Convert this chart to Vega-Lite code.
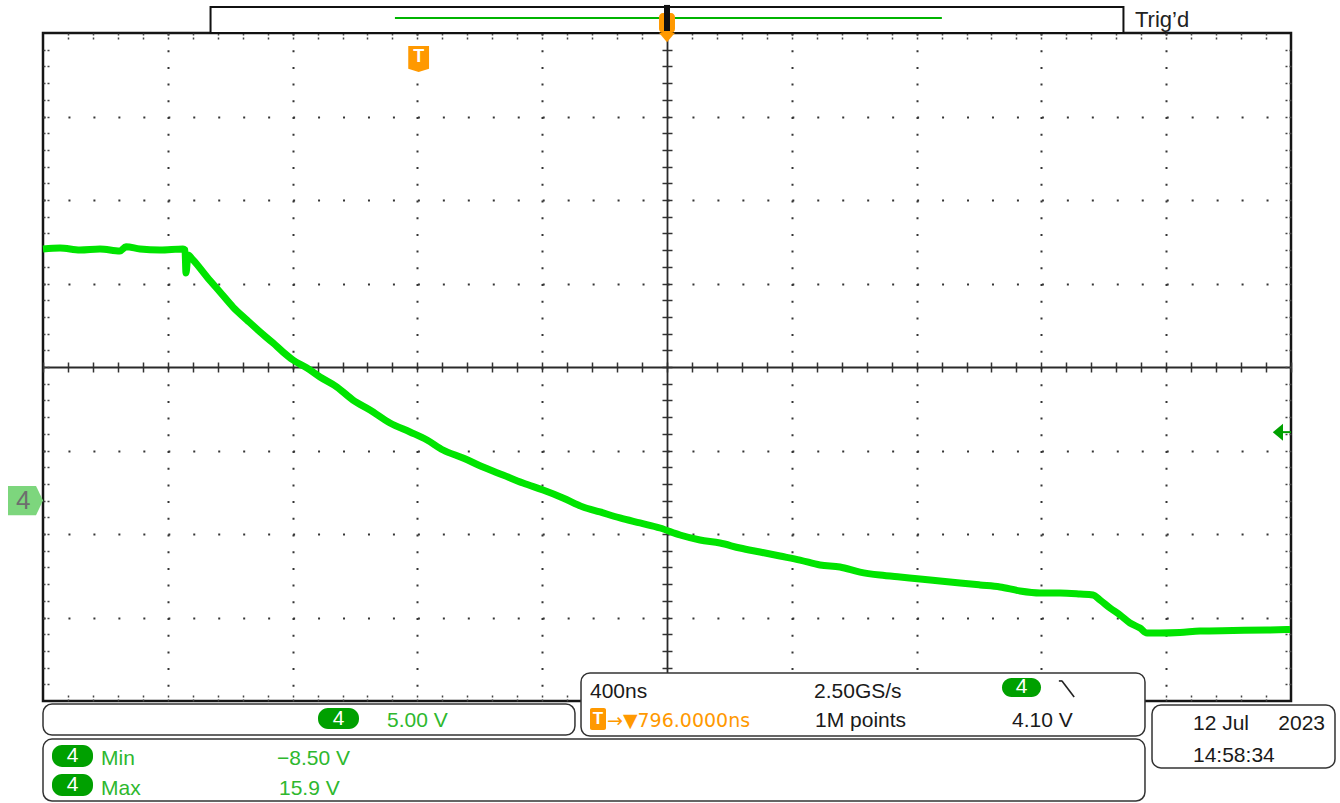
{
  "$schema": "https://vega.github.io/schema/vega-lite/v6.json",
  "width": 1248,
  "height": 668,
  "autosize": {"type": "none"},
  "padding": {"left": 43, "top": 33, "right": 49, "bottom": 102},
  "background": "white",
  "config": {
    "view": {"stroke": "#151515", "strokeWidth": 2.5},
    "text": {"font": "Liberation Sans", "fontSize": 21, "align": "left", "baseline": "alphabetic", "color": "#1a1a1a"}
  },
  "data": {"values": [{}]},
  "datasets": {
    "trace": [
      {"t": -2000, "v": 15.07}, {"t": -1945.5, "v": 15.13}, {"t": -1881.4, "v": 15.01}, {"t": -1817.3, "v": 15.07},
      {"t": -1753.2, "v": 14.95}, {"t": -1734.0, "v": 15.2}, {"t": -1689.1, "v": 15.07}, {"t": -1625.0, "v": 15.01},
      {"t": -1551.3, "v": 15.07}, {"t": -1544.9, "v": 15.01}, {"t": -1541.7, "v": 13.63}, {"t": -1535.3, "v": 14.71},
      {"t": -1519.2, "v": 14.41}, {"t": -1474.4, "v": 13.39}, {"t": -1432.7, "v": 12.49}, {"t": -1391.0, "v": 11.59},
      {"t": -1346.2, "v": 10.81}, {"t": -1304.5, "v": 10.10}, {"t": -1262.8, "v": 9.44}, {"t": -1230.8, "v": 8.90},
      {"t": -1198.7, "v": 8.42}, {"t": -1153.8, "v": 7.94}, {"t": -1112.2, "v": 7.40}, {"t": -1057.7, "v": 6.80},
      {"t": -1006.4, "v": 6.02}, {"t": -951.9, "v": 5.43}, {"t": -887.8, "v": 4.65}, {"t": -823.7, "v": 4.11},
      {"t": -769.2, "v": 3.63}, {"t": -717.9, "v": 3.03}, {"t": -653.8, "v": 2.55}, {"t": -589.7, "v": 2.01},
      {"t": -525.6, "v": 1.53}, {"t": -461.5, "v": 1.05}, {"t": -397.4, "v": 0.63}, {"t": -333.3, "v": 0.16},
      {"t": -269.2, "v": -0.38}, {"t": -214.7, "v": -0.68}, {"t": -150.6, "v": -1.04}, {"t": -86.5, "v": -1.34},
      {"t": -22.4, "v": -1.64}, {"t": 41.7, "v": -2.06}, {"t": 105.8, "v": -2.36}, {"t": 169.9, "v": -2.54},
      {"t": 234.0, "v": -2.84}, {"t": 298.1, "v": -3.08}, {"t": 362.2, "v": -3.32}, {"t": 426.3, "v": -3.56},
      {"t": 490.4, "v": -3.86}, {"t": 554.5, "v": -3.98}, {"t": 618.6, "v": -4.28}, {"t": 682.7, "v": -4.46},
      {"t": 746.8, "v": -4.58}, {"t": 810.9, "v": -4.69}, {"t": 875.0, "v": -4.81}, {"t": 939.1, "v": -4.93},
      {"t": 1003.2, "v": -5.05}, {"t": 1067.3, "v": -5.17}, {"t": 1131.4, "v": -5.41}, {"t": 1195.5, "v": -5.53},
      {"t": 1259.6, "v": -5.53}, {"t": 1323.7, "v": -5.59}, {"t": 1365.4, "v": -5.65}, {"t": 1387.8, "v": -5.95},
      {"t": 1419.9, "v": -6.43}, {"t": 1452.0, "v": -6.85}, {"t": 1484.0, "v": -7.33}, {"t": 1516.0, "v": -7.63},
      {"t": 1538.5, "v": -7.93}, {"t": 1580.1, "v": -7.93}, {"t": 1644.2, "v": -7.9}, {"t": 1708.3, "v": -7.81},
      {"t": 1814.1, "v": -7.78}, {"t": 1923.1, "v": -7.75}, {"t": 1996.8, "v": -7.72}
    ]
  },
  "layer": [
    {
      "data": {"name": "trace"},
      "mark": {"type": "point", "opacity": 0},
      "encoding": {
        "x": {"field": "t", "type": "quantitative", "axis": {"orient": "bottom", "values": [-1600, -1200, -800, -400, 400, 800, 1200, 1600], "grid": true, "gridDash": [2, 14.7], "gridColor": "#353535", "gridWidth": 2, "labels": false, "ticks": false, "domain": false, "title": null}},
        "y": {"field": "v", "type": "quantitative", "axis": {"orient": "left", "values": [-7, -2, 3, 13, 18, 23], "grid": true, "gridDash": [2, 22.96], "gridColor": "#353535", "gridWidth": 2, "labels": false, "ticks": false, "domain": false, "title": null}}
      }
    },
    {
      "data": {"name": "trace"},
      "mark": {"type": "point", "opacity": 0},
      "encoding": {
        "x": {"field": "t", "type": "quantitative", "axis": {"orient": "bottom", "offset": -334, "values": [-2000,-1920,-1840,-1760,-1680,-1600,-1520,-1440,-1360,-1280,-1200,-1120,-1040,-960,-880,-800,-720,-640,-560,-480,-400,-320,-240,-160,-80,0,80,160,240,320,400,480,560,640,720,800,880,960,1040,1120,1200,1280,1360,1440,1520,1600,1680,1760,1840,1920,2000], "grid": false, "labels": false, "ticks": true, "tickSize": 5, "tickColor": "#333", "tickWidth": 1.5, "domain": true, "domainColor": "#2a2a2a", "domainWidth": 1.8, "title": null}},
        "y": {"field": "v", "type": "quantitative", "axis": {"orient": "left", "offset": -624, "values": [-12,-11,-10,-9,-8,-7,-6,-5,-4,-3,-2,-1,0,1,2,3,4,5,6,7,8,9,10,11,12,13,14,15,16,17,18,19,20,21,22,23,24,25,26,27,28], "grid": false, "labels": false, "ticks": true, "tickSize": 5, "tickColor": "#333", "tickWidth": 1.5, "domain": true, "domainColor": "#2a2a2a", "domainWidth": 1.8, "title": null}}
      }
    },
    {
      "data": {"name": "trace"},
      "mark": {"type": "point", "opacity": 0},
      "encoding": {
        "x": {"field": "t", "type": "quantitative", "axis": {"orient": "top", "offset": -334, "values": [-2000,-1920,-1840,-1760,-1680,-1600,-1520,-1440,-1360,-1280,-1200,-1120,-1040,-960,-880,-800,-720,-640,-560,-480,-400,-320,-240,-160,-80,0,80,160,240,320,400,480,560,640,720,800,880,960,1040,1120,1200,1280,1360,1440,1520,1600,1680,1760,1840,1920,2000], "grid": false, "labels": false, "ticks": true, "tickSize": 5, "tickColor": "#333", "tickWidth": 1.5, "domain": false, "title": null}},
        "y": {"field": "v", "type": "quantitative", "axis": {"orient": "right", "offset": -624, "values": [-12,-11,-10,-9,-8,-7,-6,-5,-4,-3,-2,-1,0,1,2,3,4,5,6,7,8,9,10,11,12,13,14,15,16,17,18,19,20,21,22,23,24,25,26,27,28], "grid": false, "labels": false, "ticks": true, "tickSize": 5, "tickColor": "#333", "tickWidth": 1.5, "domain": false, "title": null}}
      }
    },
    {
      "data": {"name": "trace"},
      "mark": {"type": "point", "opacity": 0},
      "encoding": {
        "x": {"field": "t", "type": "quantitative", "axis": {"orient": "bottom", "values": [-1920,-1840,-1760,-1680,-1600,-1520,-1440,-1360,-1280,-1200,-1120,-1040,-960,-880,-800,-720,-640,-560,-480,-400,-320,-240,-160,-80,0,80,160,240,320,400,480,560,640,720,800,880,960,1040,1120,1200,1280,1360,1440,1520,1600,1680,1760,1840,1920], "grid": false, "labels": false, "ticks": true, "tickSize": -6, "tickDash": [2, 2], "tickColor": "#444", "tickWidth": 1.5, "domain": false, "title": null}},
        "y": {"field": "v", "type": "quantitative", "axis": {"orient": "left", "values": [-11,-10,-9,-8,-7,-6,-5,-4,-3,-2,-1,0,1,2,3,4,5,6,7,8,9,10,11,12,13,14,15,16,17,18,19,20,21,22,23,24,25,26,27], "grid": false, "labels": false, "ticks": true, "tickSize": -6, "tickDash": [2, 2], "tickColor": "#444", "tickWidth": 1.5, "domain": false, "title": null}}
      }
    },
    {
      "data": {"name": "trace"},
      "mark": {"type": "point", "opacity": 0},
      "encoding": {
        "x": {"field": "t", "type": "quantitative", "axis": {"orient": "top", "values": [-1920,-1840,-1760,-1680,-1600,-1520,-1440,-1360,-1280,-1200,-1120,-1040,-960,-880,-800,-720,-640,-560,-480,-400,-320,-240,-160,-80,0,80,160,240,320,400,480,560,640,720,800,880,960,1040,1120,1200,1280,1360,1440,1520,1600,1680,1760,1840,1920], "grid": false, "labels": false, "ticks": true, "tickSize": -6, "tickDash": [2, 2], "tickColor": "#444", "tickWidth": 1.5, "domain": false, "title": null}},
        "y": {"field": "v", "type": "quantitative", "axis": {"orient": "right", "values": [-11,-10,-9,-8,-7,-6,-5,-4,-3,-2,-1,0,1,2,3,4,5,6,7,8,9,10,11,12,13,14,15,16,17,18,19,20,21,22,23,24,25,26,27], "grid": false, "labels": false, "ticks": true, "tickSize": -6, "tickDash": [2, 2], "tickColor": "#444", "tickWidth": 1.5, "domain": false, "title": null}}
      }
    },
    {
      "data": {"name": "trace"},
      "mark": {"type": "line", "color": "#00e400", "strokeWidth": 7, "strokeJoin": "round", "strokeCap": "butt", "interpolate": "monotone"},
      "encoding": {
        "x": {"field": "t", "type": "quantitative", "scale": {"domain": [-2000, 2000], "nice": false, "zero": false}, "axis": null},
        "y": {"field": "v", "type": "quantitative", "scale": {"domain": [-12, 28], "nice": false, "zero": false}, "axis": null}
      }
    },
    {
      "mark": {"type": "rect", "fill": "white", "stroke": "#111", "strokeWidth": 2},
      "encoding": {"x": {"datum": -1463, "axis": null}, "x2": {"datum": 1463}, "y": {"datum": 29.56, "axis": null}, "y2": {"datum": 28.0}}
    },
    {
      "mark": {"type": "rule", "color": "#00b400", "strokeWidth": 2},
      "encoding": {"x": {"datum": -872, "axis": null}, "x2": {"datum": 881}, "y": {"datum": 28.9, "axis": null}}
    },
    {
      "mark": {"type": "rect", "fill": "#ff9900", "cornerRadius": 4},
      "encoding": {"x": {"datum": -25.6, "axis": null}, "x2": {"datum": 25.6}, "y": {"datum": 29.2, "axis": null}, "y2": {"datum": 28.0}}
    },
    {
      "mark": {"type": "rect", "fill": "#111"},
      "encoding": {"x": {"datum": -9.6, "axis": null}, "x2": {"datum": 9.6}, "y": {"datum": 29.68, "axis": null}, "y2": {"datum": 28.12}}
    },
    {
      "mark": {"type": "point", "shape": "M-1,-0.6L1,-0.6L0,0.6Z", "filled": true, "fill": "#ff9900", "opacity": 1, "size": 256, "strokeWidth": 0},
      "encoding": {"x": {"datum": 0, "axis": null}, "y": {"datum": 27.73, "axis": null}}
    },
    {
      "mark": {"type": "text", "text": "Trig’d", "fontSize": 22, "color": "#222"},
      "encoding": {"x": {"datum": 1500, "axis": null}, "y": {"datum": 28.36, "axis": null}}
    },
    {
      "mark": {"type": "point", "shape": "M-0.8,-1L0.8,-1L0.8,0.75L0,1L-0.8,0.75Z", "filled": true, "fill": "#ff9900", "opacity": 1, "size": 676, "strokeWidth": 0},
      "encoding": {"x": {"datum": -796, "axis": null}, "y": {"datum": 26.44, "axis": null}}
    },
    {
      "mark": {"type": "text", "text": "T", "fontSize": 18, "fontWeight": "bold", "color": "white", "align": "center", "baseline": "middle"},
      "encoding": {"x": {"datum": -796, "axis": null}, "y": {"datum": 26.55, "axis": null}}
    },
    {
      "mark": {"type": "point", "shape": "M-1,-0.83L0.6,-0.83L1,0L0.6,0.83L-1,0.83Z", "filled": true, "fill": "#7dd67d", "opacity": 1, "size": 1225, "strokeWidth": 0},
      "encoding": {"x": {"datum": -2056, "axis": null}, "y": {"datum": 0, "axis": null}}
    },
    {
      "mark": {"type": "text", "text": "4", "fontSize": 26, "color": "#6e6e6e", "align": "center", "baseline": "middle"},
      "encoding": {"x": {"datum": -2063, "axis": null}, "y": {"datum": 0, "axis": null}}
    },
    {
      "mark": {"type": "point", "shape": "M-0.6,0L0.6,-1L0.6,1Z", "filled": true, "fill": "#00a000", "opacity": 1, "size": 289, "strokeWidth": 0},
      "encoding": {"x": {"datum": 1958, "axis": null}, "y": {"datum": 4.1, "axis": null}}
    },
    {
      "mark": {"type": "rule", "color": "#00a000", "strokeWidth": 2},
      "encoding": {"x": {"datum": 1970, "axis": null}, "x2": {"datum": 2000}, "y": {"datum": 4.1, "axis": null}}
    },
    {
      "mark": {"type": "rect", "fill": "white", "stroke": "#333", "strokeWidth": 1.5, "cornerRadius": 9},
      "encoding": {"x": {"datum": -2000, "axis": null}, "x2": {"datum": -295}, "y": {"datum": -12.18, "axis": null}, "y2": {"datum": -14.04}}
    },
    {
      "mark": {"type": "rect", "fill": "white", "stroke": "#333", "strokeWidth": 1.5, "cornerRadius": 9},
      "encoding": {"x": {"datum": -275.6, "axis": null}, "x2": {"datum": 1532}, "y": {"datum": -10.32, "axis": null}, "y2": {"datum": -14.1}}
    },
    {
      "mark": {"type": "rect", "fill": "white", "stroke": "#333", "strokeWidth": 1.5, "cornerRadius": 9},
      "encoding": {"x": {"datum": -2000, "axis": null}, "x2": {"datum": 1532}, "y": {"datum": -14.28, "axis": null}, "y2": {"datum": -17.99}}
    },
    {
      "mark": {"type": "rect", "fill": "white", "stroke": "#333", "strokeWidth": 1.5, "cornerRadius": 9},
      "encoding": {"x": {"datum": 1554.5, "axis": null}, "x2": {"datum": 2141}, "y": {"datum": -12.24, "axis": null}, "y2": {"datum": -16.01}}
    },
    {
      "mark": {"type": "rect", "fill": "#00a000", "cornerRadius": 10},
      "encoding": {"x": {"datum": -1118.6, "axis": null}, "x2": {"datum": -987.2}, "y": {"datum": -12.42, "axis": null}, "y2": {"datum": -13.68}}
    },
    {
      "mark": {"type": "rect", "fill": "#00a000", "cornerRadius": 10},
      "encoding": {"x": {"datum": 1073.7, "axis": null}, "x2": {"datum": 1198.7}, "y": {"datum": -10.62, "axis": null}, "y2": {"datum": -11.76}}
    },
    {
      "mark": {"type": "rect", "fill": "#00a000", "cornerRadius": 10},
      "encoding": {"x": {"datum": -1971.2, "axis": null}, "x2": {"datum": -1839.7}, "y": {"datum": -14.63, "axis": null}, "y2": {"datum": -15.95}}
    },
    {
      "mark": {"type": "rect", "fill": "#00a000", "cornerRadius": 10},
      "encoding": {"x": {"datum": -1971.2, "axis": null}, "x2": {"datum": -1839.7}, "y": {"datum": -16.37, "axis": null}, "y2": {"datum": -17.69}}
    },
    {
      "mark": {"type": "text", "text": "4", "color": "white", "fontSize": 21, "align": "center", "baseline": "middle"},
      "encoding": {"x": {"datum": -1052.9, "axis": null}, "y": {"datum": -13.05, "axis": null}}
    },
    {
      "mark": {"type": "text", "text": "4", "color": "white", "fontSize": 21, "align": "center", "baseline": "middle"},
      "encoding": {"x": {"datum": 1136.2, "axis": null}, "y": {"datum": -11.19, "axis": null}}
    },
    {
      "mark": {"type": "text", "text": "4", "color": "white", "fontSize": 21, "align": "center", "baseline": "middle"},
      "encoding": {"x": {"datum": -1905.4, "axis": null}, "y": {"datum": -15.29, "axis": null}}
    },
    {
      "mark": {"type": "text", "text": "4", "color": "white", "fontSize": 21, "align": "center", "baseline": "middle"},
      "encoding": {"x": {"datum": -1905.4, "axis": null}, "y": {"datum": -17.03, "axis": null}}
    },
    {
      "mark": {"type": "text", "text": "5.00 V", "color": "#2eb82e"},
      "encoding": {"x": {"datum": -897.4, "axis": null}, "y": {"datum": -13.56, "axis": null}}
    },
    {
      "mark": {"type": "text", "text": "400ns"},
      "encoding": {"x": {"datum": -246.8, "axis": null}, "y": {"datum": -11.82, "axis": null}}
    },
    {
      "mark": {"type": "text", "text": "2.50GS/s"},
      "encoding": {"x": {"datum": 471.2, "axis": null}, "y": {"datum": -11.82, "axis": null}}
    },
    {
      "mark": {"type": "rule", "color": "#222", "strokeWidth": 1.6},
      "encoding": {"x": {"datum": 1266, "axis": null}, "x2": {"datum": 1305}, "y": {"datum": -10.8, "axis": null}, "y2": {"datum": -11.76}}
    },
    {
      "mark": {"type": "rule", "color": "#222", "strokeWidth": 1.6},
      "encoding": {"x": {"datum": 1256, "axis": null}, "x2": {"datum": 1267}, "y": {"datum": -10.8, "axis": null}}
    },
    {
      "mark": {"type": "rect", "fill": "#ff9900", "cornerRadius": 2},
      "encoding": {"x": {"datum": -246.8, "axis": null}, "x2": {"datum": -195.5}, "y": {"datum": -12.42, "axis": null}, "y2": {"datum": -13.74}}
    },
    {
      "mark": {"type": "text", "text": "T", "color": "white", "fontSize": 17, "fontWeight": "bold", "align": "center", "baseline": "middle"},
      "encoding": {"x": {"datum": -221.2, "axis": null}, "y": {"datum": -13.08, "axis": null}}
    },
    {
      "mark": {"type": "text", "text": "→▼796.0000ns", "color": "#ff9900", "font": "DejaVu Sans", "fontSize": 19},
      "encoding": {"x": {"datum": -192.3, "axis": null}, "y": {"datum": -13.56, "axis": null}}
    },
    {
      "mark": {"type": "text", "text": "1M points"},
      "encoding": {"x": {"datum": 474.4, "axis": null}, "y": {"datum": -13.56, "axis": null}}
    },
    {
      "mark": {"type": "text", "text": "4.10 V"},
      "encoding": {"x": {"datum": 1105.8, "axis": null}, "y": {"datum": -13.56, "axis": null}}
    },
    {
      "mark": {"type": "text", "text": "Min", "color": "#2eb82e"},
      "encoding": {"x": {"datum": -1814.1, "axis": null}, "y": {"datum": -15.83, "axis": null}}
    },
    {
      "mark": {"type": "text", "text": "Max", "color": "#2eb82e"},
      "encoding": {"x": {"datum": -1814.1, "axis": null}, "y": {"datum": -17.63, "axis": null}}
    },
    {
      "mark": {"type": "text", "text": "−8.50 V", "color": "#2eb82e"},
      "encoding": {"x": {"datum": -1250.0, "axis": null}, "y": {"datum": -15.83, "axis": null}}
    },
    {
      "mark": {"type": "text", "text": "15.9 V", "color": "#2eb82e"},
      "encoding": {"x": {"datum": -1243.6, "axis": null}, "y": {"datum": -17.63, "axis": null}}
    },
    {
      "mark": {"type": "text", "text": "12 Jul"},
      "encoding": {"x": {"datum": 1685.9, "axis": null}, "y": {"datum": -13.74, "axis": null}}
    },
    {
      "mark": {"type": "text", "text": "2023", "align": "right"},
      "encoding": {"x": {"datum": 2109, "axis": null}, "y": {"datum": -13.74, "axis": null}}
    },
    {
      "mark": {"type": "text", "text": "14:58:34"},
      "encoding": {"x": {"datum": 1685.9, "axis": null}, "y": {"datum": -15.65, "axis": null}}
    }
  ],
  "resolve": {"axis": {"x": "independent", "y": "independent"}}
}
